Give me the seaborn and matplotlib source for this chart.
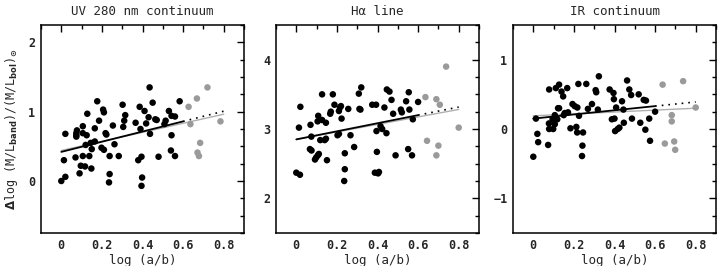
import numpy as np
import pandas as pd
import seaborn as sns
import matplotlib
matplotlib.use("Agg")
import matplotlib.pyplot as plt
from matplotlib.ticker import MultipleLocator

# ---- data ----
titles = ["UV 280 nm continuum", "H\u03b1 line", "IR continuum"]

uv_x = [0.0, 0.02, 0.013, 0.02, 0.07, 0.074, 0.074, 0.074, 0.077, 0.09, 0.096, 0.106, 0.106,
        0.106, 0.117, 0.12, 0.125, 0.128, 0.138, 0.145, 0.15, 0.148, 0.165, 0.165, 0.177,
        0.186, 0.198, 0.206, 0.21, 0.21, 0.218, 0.222, 0.238, 0.238, 0.235, 0.254, 0.262,
        0.283, 0.302, 0.305, 0.31, 0.315, 0.366, 0.379, 0.386, 0.39, 0.395, 0.395, 0.398,
        0.41, 0.418, 0.43, 0.435, 0.437, 0.45, 0.463, 0.47, 0.479, 0.508, 0.514, 0.53,
        0.543, 0.543, 0.54, 0.56, 0.56, 0.583]
uv_y = [0.0, 0.06, 0.30, 0.68, 0.34, 0.66, 0.69, 0.64, 0.73, 0.11, 0.22, 0.79, 0.69,
        0.36, 0.21, 0.52, 0.66, 0.97, 0.36, 0.55, 0.46, 0.18, 0.57, 0.76, 1.15,
        0.87, 0.48, 1.03, 0.99, 0.45, 0.69, 0.67, 0.36, 0.10, -0.02, 0.80, 0.53,
        0.36, 1.10, 0.78, 0.87, 0.95, 0.84, 0.30, 1.07, 0.75, 0.35, -0.07, 0.05,
        1.01, 0.83, 0.92, 1.35, 0.68, 1.13, 0.89, 0.88, 0.35, 0.82, 0.87, 1.01,
        0.94, 0.66, 0.44, 0.93, 0.36, 1.15]
uv_gx = [0.627, 0.636, 0.668, 0.671, 0.678, 0.684, 0.72, 0.784]
uv_gy = [1.07, 0.82, 1.19, 0.41, 0.36, 0.55, 1.35, 0.86]

ha_x = [0.0, 0.018, 0.013, 0.02, 0.07, 0.067, 0.075, 0.074, 0.092, 0.098, 0.106, 0.111,
        0.105, 0.108, 0.118, 0.127, 0.127, 0.14, 0.146, 0.146, 0.151, 0.167, 0.17, 0.18,
        0.188, 0.203, 0.21, 0.21, 0.215, 0.22, 0.223, 0.239, 0.239, 0.236, 0.256, 0.267,
        0.285, 0.308, 0.311, 0.316, 0.32, 0.374, 0.387, 0.393, 0.395, 0.397, 0.403, 0.407,
        0.415, 0.423, 0.434, 0.444, 0.446, 0.459, 0.469, 0.477, 0.489, 0.515, 0.52, 0.541,
        0.551, 0.554, 0.557, 0.57, 0.574, 0.6]
ha_y = [2.37, 2.34, 3.02, 3.32, 3.06, 2.71, 2.69, 2.89, 2.56, 2.59, 2.62, 2.64,
        3.11, 3.19, 2.84, 3.50, 3.13, 2.84, 2.86, 3.09, 2.55, 3.22, 3.25, 3.50,
        3.35, 2.91, 2.93, 3.26, 3.31, 3.33, 3.15, 2.65, 2.42, 2.25, 3.29, 2.91,
        2.74, 3.51, 3.29, 3.28, 3.60, 3.35, 2.37, 3.35, 2.97, 2.67, 2.36, 2.38,
        3.04, 3.00, 3.31, 2.94, 3.57, 3.54, 3.42, 3.22, 2.62, 3.28, 3.24, 3.40,
        2.71, 3.53, 3.28, 2.62, 3.14, 3.39]
ha_gx = [0.636, 0.644, 0.69, 0.69, 0.70, 0.707, 0.738, 0.80]
ha_gy = [3.46, 2.83, 3.43, 2.62, 2.76, 3.35, 3.90, 3.02]

ir_x = [0.0, 0.013, 0.02, 0.024, 0.073, 0.077, 0.078, 0.078, 0.095, 0.098, 0.106, 0.106,
        0.111, 0.118, 0.122, 0.127, 0.127, 0.139, 0.147, 0.15, 0.155, 0.167, 0.171, 0.183,
        0.193, 0.204, 0.212, 0.216, 0.217, 0.222, 0.225, 0.242, 0.24, 0.245, 0.261, 0.269,
        0.289, 0.307, 0.31, 0.318, 0.323, 0.376, 0.387, 0.395, 0.397, 0.40, 0.403, 0.408,
        0.416, 0.424, 0.437, 0.444, 0.446, 0.462, 0.473, 0.482, 0.486, 0.519, 0.527, 0.544,
        0.555, 0.552, 0.571, 0.575, 0.60]
ir_y = [-0.40, 0.15, -0.07, -0.19, -0.23, 0.08, 0.0, 0.57, 0.14, 0.0, 0.20, 0.07,
        0.59, 0.14, 0.30, 0.30, 0.64, 0.54, 0.47, 0.20, 0.23, 0.59, 0.24, 0.01,
        0.36, 0.33, 0.03, -0.05, 0.31, 0.65, 0.19, -0.24, -0.39, -0.05, 0.65, 0.29,
        0.36, 0.56, 0.53, 0.28, 0.76, 0.57, 0.14, 0.52, 0.43, 0.15, -0.03, 0.31,
        0.0, 0.02, 0.40, 0.28, 0.09, 0.70, 0.57, 0.49, 0.15, 0.50, 0.09, 0.42,
        0.41, -0.01, 0.15, -0.17, 0.25]
ir_gx = [0.637, 0.648, 0.682, 0.682, 0.694, 0.699, 0.738, 0.80]
ir_gy = [0.64, -0.21, 0.20, 0.11, -0.18, -0.30, 0.69, 0.31]

# fits: (intercept, slope)
fit_black = [(0.42, 0.733), (2.85, 0.583), (0.15, 0.30)]
fit_gray = [(0.44, 0.654), (2.85, 0.54), (0.19, 0.1375)]

ylims = [(-0.75, 2.25), (1.5, 4.5), (-1.5, 1.5)]
panels = [(uv_x, uv_y, uv_gx, uv_gy), (ha_x, ha_y, ha_gx, ha_gy), (ir_x, ir_y, ir_gx, ir_gy)]

sns.set_style("white")
plt.rcParams['font.family'] = ['DejaVu Sans Mono', 'DejaVu Sans']
plt.rcParams['font.weight'] = 'bold'
plt.rcParams['mathtext.fontset'] = 'dejavusans'

fig = plt.figure(figsize=(7.22, 2.66), dpi=100)
lefts = [41, 276, 513]
gray = '#9a9a9a'

for i, (bx, by, gx, gy) in enumerate(panels):
    ax = fig.add_axes([lefts[i] / 722, 33 / 266, 203 / 722, 208 / 266])
    df = pd.DataFrame({'x': bx + gx, 'y': by + gy,
                       'grp': ['b'] * len(bx) + ['g'] * len(gx)})
    sns.scatterplot(data=df, x='x', y='y', hue='grp', palette={'b': 'black', 'g': gray},
                    s=22, linewidth=0, legend=False, ax=ax, zorder=3)

    a, b = fit_black[i]
    xs = np.array([0.0, 0.6])
    ax.plot(xs, a + b * xs, color='black', lw=1.3, zorder=4)
    xd = np.array([0.6, 0.8])
    ax.plot(xd, a + b * xd, color='black', lw=1.2, ls=(0, (1, 3)), zorder=4)
    a, b = fit_gray[i]
    xg = np.array([0.0, 0.8])
    ax.plot(xg, a + b * xg, color='#b0b0b0', lw=1.0, zorder=2)

    ax.set_xlim(-0.1, 0.9)
    ax.set_ylim(*ylims[i])
    ax.xaxis.set_minor_locator(MultipleLocator(0.1))
    ax.yaxis.set_major_locator(MultipleLocator(1))
    ax.yaxis.set_minor_locator(MultipleLocator(0.25))
    ax.set_xticks([0, 0.2, 0.4, 0.6, 0.8])
    ax.set_xticklabels(['0', '0.2', '0.4', '0.6', '0.8'])
    ax.tick_params(which='both', direction='in', top=True, right=True, labelsize=8.5,
                   color='black', width=1.0)
    ax.tick_params(which='major', length=5, pad=4)
    ax.tick_params(which='minor', length=2.8)
    for sp in ax.spines.values():
        sp.set_color('black')
        sp.set_linewidth(1.1)
    ax.set_xlabel('log (a/b)', fontsize=9, labelpad=1.5)
    ax.set_ylabel('')
    ax.set_title(titles[i], fontsize=9, pad=7)
    if i == 0:
        ax.set_ylabel(r'$\Delta$log (M/L$_{\rm band}$)/(M/L$_{\rm bol}$)$_{\odot}$',
                      fontsize=8.5, labelpad=6)

fig.savefig('out.png', dpi=100)
